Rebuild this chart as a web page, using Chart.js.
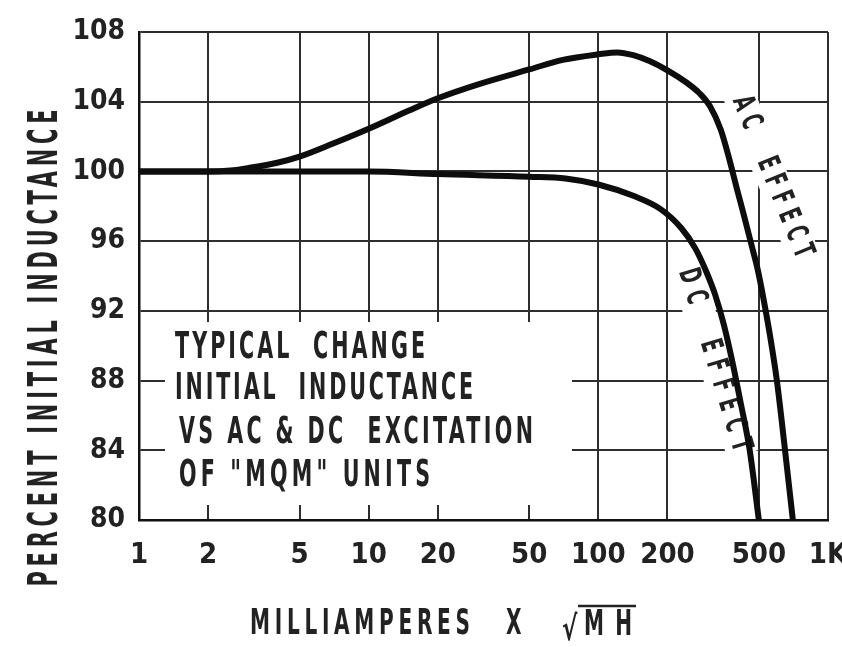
<!DOCTYPE html>
<html>
<head>
<meta charset="utf-8">
<script src="https://cdn.jsdelivr.net/npm/chart.js@4/dist/chart.umd.min.js"></script>
<style>
  html, body { margin: 0; padding: 0; background: #fff; }
  canvas { display: block; background: #fff; }
</style>
</head>
<body>
<canvas id="c" width="842" height="647"></canvas>
<script>
// ---------- data ----------
const xTickValues = [1, 2, 5, 10, 20, 50, 100, 200, 500, 1000];
const xTickLabels = ['1', '2', '5', '10', '20', '50', '100', '200', '500', '1K'];
const yMin = 80, yMax = 108, yStep = 4;

// AC effect curve (milliamperes x sqrt(mH) -> percent initial inductance)
const acX = [1, 2, 2.5, 3, 4, 5, 7, 10, 15, 20, 30, 50, 70, 100, 121, 142, 167, 200, 242, 275, 306, 341, 371, 400, 431, 464, 495, 527, 562, 599, 645, 703];
const acY = [100, 100, 100.05, 100.2, 100.5, 100.85, 101.6, 102.45, 103.5, 104.2, 105.0, 105.85, 106.4, 106.72, 106.83, 106.67, 106.33, 105.8, 105.1, 104.5, 103.75, 102.4, 100.75, 99.07, 97.45, 95.8, 94.33, 92.5, 90.4, 88, 84.4, 80];

// DC effect curve
const dcX = [1, 5, 10, 20, 50, 72, 100, 142, 186, 230, 264, 294, 323, 352, 383, 417, 455, 500];
const dcY = [100, 100, 100, 99.85, 99.7, 99.6, 99.25, 98.6, 97.85, 96.74, 95.6, 94.3, 92.9, 91.2, 89.1, 86.7, 84.1, 80];

const titleY = 'PERCENT INITIAL INDUCTANCE';
const titleXWord = 'MILLIAMPERES';
const titleXTimes = 'X';
const titleXRoot = '√';
const titleXUnit = 'MH';
const noteLines = ['TYPICAL  CHANGE', 'INITIAL  INDUCTANCE', 'VS AC & DC  EXCITATION', 'OF "MQM" UNITS'];
const acLabel = 'AC  EFFECT';
const dcLabel = 'DC  EFFECT';

// ---------- styling ----------
const FONT = '"DejaVu Sans Condensed", "Liberation Sans Narrow", "DejaVu Sans", sans-serif';
const INK = '#222';
const GRID = '#2e2e2e';

function spaced(ctx, text, x, y, o) {
  const size = o.size, width = o.width, angle = o.angle || 0;
  const squeeze = o.squeeze || 0.75, align = o.align || 'center';
  ctx.save();
  ctx.translate(x, y);
  ctx.rotate(angle);
  ctx.scale(squeeze, 1);
  ctx.font = (o.weight || 'bold') + ' ' + size + 'px ' + FONT;
  ctx.letterSpacing = '0px';
  const w0 = ctx.measureText(text).width;
  const W = width / squeeze;
  const n = Array.from(text).length;
  const ls = n > 1 ? (W - w0) / (n - 1) : 0;
  ctx.letterSpacing = ls + 'px';
  ctx.textBaseline = 'middle';
  ctx.textAlign = 'left';
  ctx.fillStyle = INK;
  const x0 = align === 'center' ? -W / 2 : 0;
  ctx.fillText(text, x0, 0);
  ctx.restore();
}

function whiteRot(ctx, cx, cy, len, h, angle) {
  ctx.save();
  ctx.translate(cx, cy);
  ctx.rotate(angle);
  ctx.fillStyle = '#fff';
  ctx.fillRect(-len / 2, -h / 2, len, h);
  ctx.restore();
}

const decor = {
  id: 'decor',
  beforeDatasetsDraw(chart) {
    const ctx = chart.ctx;
    const a = chart.chartArea;
    // blank area behind the note box
    ctx.save();
    ctx.fillStyle = '#fff';
    ctx.fillRect(a.left + 26, a.top + 290, 407, 183);
    ctx.restore();
    // blank strips behind the curve labels
    const acAng = 68 * Math.PI / 180, dcAng = 73 * Math.PI / 180;
    whiteRot(ctx, 772, 177, 182, 32, acAng);
    whiteRot(ctx, 714, 360, 198, 32, dcAng);

    // note text
    const lx = a.left + 36;
    spaced(ctx, noteLines[0], lx, 348, { size: 37, width: 250, align: 'left', squeeze: 0.62 });
    spaced(ctx, noteLines[1], lx, 389, { size: 37, width: 298, align: 'left', squeeze: 0.62 });
    spaced(ctx, noteLines[2], lx + 4, 433, { size: 37, width: 354, align: 'left', squeeze: 0.62 });
    spaced(ctx, noteLines[3], lx + 4, 476, { size: 37, width: 251, align: 'left', squeeze: 0.62 });

    // curve labels
    spaced(ctx, acLabel, 772, 177, { size: 30, width: 172, angle: acAng, squeeze: 0.64 });
    spaced(ctx, dcLabel, 714, 360, { size: 30, width: 190, angle: dcAng, squeeze: 0.64 });
  },
  afterDraw(chart) {
    const ctx = chart.ctx;
    // y title
    spaced(ctx, titleY, 47, 348, { size: 40, width: 477, angle: -Math.PI / 2, squeeze: 0.58 });
    // x title
    spaced(ctx, titleXWord, 360, 625, { size: 36, width: 220, squeeze: 0.62 });
    spaced(ctx, titleXTimes, 513, 625, { size: 36, width: 14, squeeze: 0.62 });
    ctx.save();
    ctx.font = 'bold 34px "DejaVu Sans Condensed", "DejaVu Sans", sans-serif';
    ctx.fillStyle = INK;
    ctx.textBaseline = 'alphabetic';
    ctx.textAlign = 'left';
    ctx.translate(562, 640);
    ctx.scale(0.75, 1);
    ctx.fillText(titleXRoot, 0, 0);
    ctx.restore();
    spaced(ctx, titleXUnit, 608, 626, { size: 36, width: 48, squeeze: 0.62 });
    ctx.save();
    ctx.strokeStyle = INK;
    ctx.lineWidth = 2.5;
    ctx.beginPath();
    ctx.moveTo(578, 606);
    ctx.lineTo(636, 606);
    ctx.stroke();
    ctx.restore();
  }
};

const toPts = (xs, ys) => xs.map((x, i) => ({ x: x, y: ys[i] }));

new Chart(document.getElementById('c'), {
  type: 'line',
  data: {
    datasets: [
      { label: 'AC EFFECT', data: toPts(acX, acY), borderColor: '#0d0d0d', borderWidth: 6,
        pointRadius: 0, cubicInterpolationMode: 'monotone', fill: false, borderCapStyle: 'round' },
      { label: 'DC EFFECT', data: toPts(dcX, dcY), borderColor: '#0d0d0d', borderWidth: 6,
        pointRadius: 0, cubicInterpolationMode: 'monotone', fill: false, borderCapStyle: 'round' }
    ]
  },
  options: {
    responsive: false,
    devicePixelRatio: 1,
    animation: false,
    events: [],
    layout: { padding: { top: 32, right: 14, left: 0, bottom: 0 } },
    plugins: { legend: { display: false }, tooltip: { enabled: false }, title: { display: false } },
    scales: {
      x: {
        type: 'logarithmic',
        min: 1, max: 1000,
        afterBuildTicks: (s) => { s.ticks = xTickValues.map(v => ({ value: v })); },
        afterFit: (s) => { s.height = 127; s.paddingLeft = 0; s.paddingRight = 0; },
        ticks: {
          autoSkip: false, maxRotation: 0, minRotation: 0,
          callback: (v, i) => xTickLabels[i],
          font: { family: FONT, size: 29, weight: 'bold' },
          color: INK, padding: 18
        },
        grid: { color: GRID, lineWidth: 2, drawTicks: false },
        border: { color: '#111', width: 2.5 }
      },
      y: {
        type: 'linear',
        min: yMin, max: yMax,
        afterFit: (s) => { s.width = 139; },
        ticks: {
          stepSize: yStep,
          font: { family: FONT, size: 28, weight: 'bold' },
          color: INK, padding: 14
        },
        grid: { color: GRID, lineWidth: 2, drawTicks: false },
        border: { color: '#111', width: 2.5 }
      }
    }
  },
  plugins: [decor]
});
</script>
</body>
</html>
